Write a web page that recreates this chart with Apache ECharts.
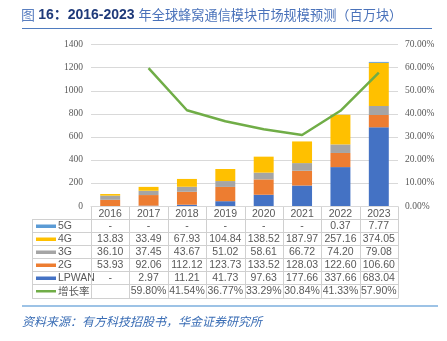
<!DOCTYPE html>
<html>
<head>
<meta charset="utf-8">
<script src="https://cdn.jsdelivr.net/npm/echarts@6/dist/echarts.min.js"></script>
<style>
html,body{margin:0;padding:0;background:#fff;}
#c{width:447px;height:341px;}
</style>
</head>
<body>
<div id="c"></div>
<script>
const years = ['2016','2017','2018','2019','2020','2021','2022','2023'];
const g5 = [null,null,null,null,null,null,0.37,7.77];
const g4 = [13.83,33.49,67.93,104.84,138.52,187.97,257.16,374.05];
const g3 = [36.10,37.45,43.67,51.02,58.61,66.72,74.20,79.08];
const g2 = [53.93,92.06,112.12,123.73,133.52,128.03,122.60,106.60];
const lpwan = [null,2.97,11.21,41.73,97.63,177.66,337.66,683.04];
const growth = [null,59.80,41.54,36.77,33.29,30.84,41.33,57.90];
const leftMax = 1400, leftStep = 200;
const rightMax = 70, rightStep = 10;

const C = {g5:'#5B9BD5', g4:'#FFC000', g3:'#A5A5A5', g2:'#ED7D31', lp:'#4472C4', gr:'#70AD47'};
const rows = [
  {name:'5G', data:g5, color:C.g5, fmt:v=>v==null?'-':v.toFixed(2)},
  {name:'4G', data:g4, color:C.g4, fmt:v=>v==null?'-':v.toFixed(2)},
  {name:'3G', data:g3, color:C.g3, fmt:v=>v==null?'-':v.toFixed(2)},
  {name:'2G', data:g2, color:C.g2, fmt:v=>v==null?'-':v.toFixed(2)},
  {name:'LPWAN', data:lpwan, color:C.lp, fmt:v=>v==null?'-':v.toFixed(2)},
  {name:'增长率', data:growth, color:C.gr, fmt:v=>v==null?'':v.toFixed(2)+'%', line:true}
];
const tblFont = '"Liberation Sans Narrow","Liberation Sans","Noto Sans CJK SC",sans-serif';
const axisFont = '"Liberation Serif","Times New Roman",serif';
const cjk = '"Noto Sans CJK SC",sans-serif';

const chart = echarts.init(document.getElementById('c'), null, {renderer:'canvas'});
const gridL = 91, gridR = 49, gridT = 44.7, gridB = 135;
const bw = '52%';
chart.setOption({
  animation:false,
  backgroundColor:'#fff',
  title:{
    left:21, top:8, padding:0,
    text:'{a|图 }{b|16：2016-2023 }{c|年全球蜂窝通信模块市场规模预测（百万块）}',
    textStyle:{
      fontWeight:'normal',
      rich:{
        a:{fontSize:14, color:'#5A7FC0', fontWeight:'normal', fontFamily:cjk},
        b:{fontSize:14, color:'#1F3A7A', fontWeight:'bold', fontFamily:'"Liberation Sans","Noto Sans CJK SC",sans-serif'},
        c:{fontSize:13.2, color:'#4A72BA', fontWeight:'normal', fontFamily:cjk}
      }
    }
  },
  grid:{left:gridL, right:gridR, top:gridT, bottom:gridB},
  xAxis:{
    type:'category', data:years,
    axisLine:{show:true, lineStyle:{color:'#d9d9d9', width:1}},
    axisTick:{show:false},
    axisLabel:{margin:3, fontSize:10.5, color:'#595959', fontFamily:tblFont}
  },
  yAxis:[
    {type:'value', min:0, max:leftMax, interval:leftStep,
     axisLine:{show:false}, axisTick:{show:false},
     splitLine:{lineStyle:{color:'#d9d9d9', width:1.2}},
     axisLabel:{margin:8, fontSize:9.5, color:'#595959', fontFamily:axisFont, formatter:v=>String(v)}},
    {type:'value', min:0, max:rightMax, interval:rightStep,
     axisLine:{show:false}, axisTick:{show:false}, splitLine:{show:false},
     axisLabel:{margin:7, fontSize:9.5, color:'#595959', fontFamily:axisFont,
       formatter:v=>v.toFixed(2)+'%'}}
  ],
  series:[
    {name:'LPWAN', type:'bar', stack:'s', data:lpwan, barWidth:bw, itemStyle:{color:C.lp}},
    {name:'2G', type:'bar', stack:'s', data:g2, barWidth:bw, itemStyle:{color:C.g2}},
    {name:'3G', type:'bar', stack:'s', data:g3, barWidth:bw, itemStyle:{color:C.g3}},
    {name:'4G', type:'bar', stack:'s', data:g4, barWidth:bw, itemStyle:{color:C.g4}},
    {name:'5G', type:'bar', stack:'s', data:g5, barWidth:bw, itemStyle:{color:C.g5}},
    {name:'增长率', type:'line', yAxisIndex:1, data:growth, showSymbol:false, symbol:'none',
     lineStyle:{color:C.gr, width:2.5}, itemStyle:{color:C.gr}, connectNulls:false}
  ]
});

function buildTable(){
  const n = years.length;
  const c0 = chart.convertToPixel({xAxisIndex:0}, 0);
  const c1 = chart.convertToPixel({xAxisIndex:0}, 1);
  const band = c1 - c0;
  const xLeft = c0 - band/2;
  const xRight = xLeft + band*n;
  const axisY = chart.convertToPixel({yAxisIndex:0}, 0);
  const headH = 13;
  const rowHs = [13,13,13,13,13,14];
  const legL = 32;
  const lc = '#d0d0d0';
  const els = [];
  const hl = (x1,x2,y)=>els.push({type:'line', shape:{x1,y1:y,x2,y2:y}, style:{stroke:lc, lineWidth:1}, silent:true});
  const vl = (x,y1,y2)=>els.push({type:'line', shape:{x1:x,y1,x2:x,y2}, style:{stroke:lc, lineWidth:1}, silent:true});
  let y = Math.round(axisY) + headH + 0.5;
  const yTop = Math.round(axisY)+0.5;
  hl(legL, xRight, y);
  rows.forEach((r, ri)=>{
    const h = rowHs[ri];
    const cy = y + h/2;
    els.push({type:'rect', shape:{x:legL+4, y:cy-1.5, width:20, height:r.line?2.5:3.5}, style:{fill:r.color}, silent:true});
    els.push({type:'text', x:legL+26, y:cy, style:{text:r.name, fill:'#595959', fontSize:10.5,
      fontFamily:r.line?cjk:tblFont, verticalAlign:'middle', align:'left'}, silent:true});
    for(let i=0;i<n;i++){
      const cx = chart.convertToPixel({xAxisIndex:0}, i);
      els.push({type:'text', x:cx, y:cy, style:{text:r.fmt(r.data[i]), fill:'#595959', fontSize:10.5,
        fontFamily:tblFont, align:'center', verticalAlign:'middle'}, silent:true});
    }
    y += h;
    hl(legL, xRight, y);
  });
  const yBot = y;
  vl(legL+0.5, yTop+headH, yBot);
  for(let k=0;k<=n;k++){ vl(Math.round(xLeft+band*k)+0.5, yTop, yBot); }
  els.push({type:'line', shape:{x1:22,y1:28.5,x2:432,y2:28.5}, style:{stroke:'#4F7CC0', lineWidth:1}, silent:true});
  els.push({type:'line', shape:{x1:22,y1:306,x2:438,y2:306}, style:{stroke:'#9DC3E6', lineWidth:2}, silent:true});
  els.push({type:'text', x:22, y:321, style:{text:'资料来源：有方科技招股书，华金证券研究所', fill:'#3A6DB5',
    fontSize:12, fontStyle:'italic', fontFamily:cjk, verticalAlign:'middle', align:'left'}, silent:true});
  chart.setOption({graphic:{elements:els}});
}
buildTable();
</script>
</body>
</html>
